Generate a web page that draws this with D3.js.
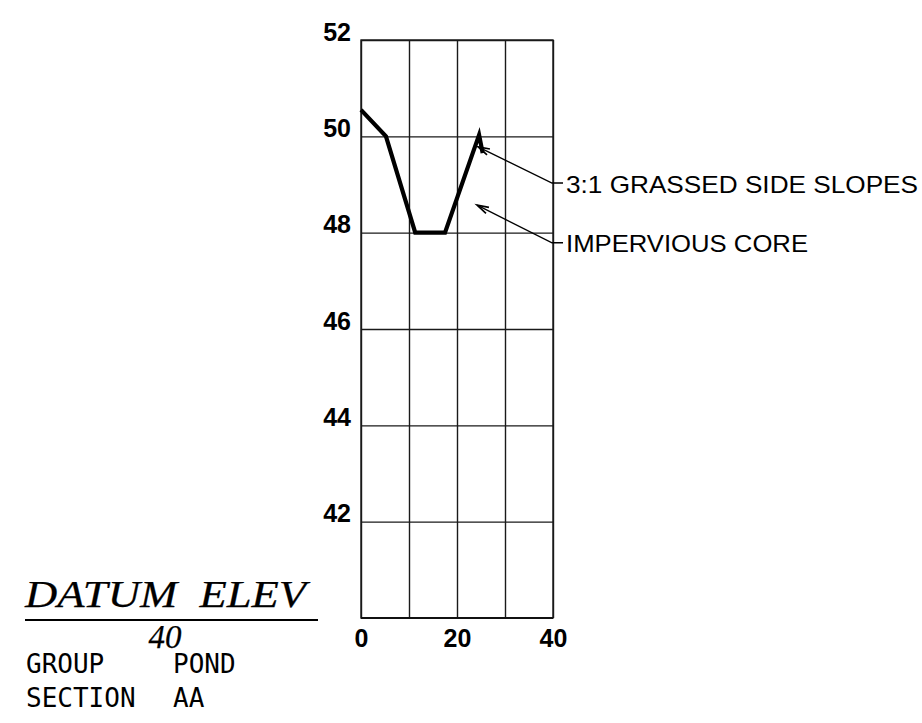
<!DOCTYPE html>
<html>
<head>
<meta charset="utf-8">
<script src="https://cdn.jsdelivr.net/npm/d3@7"></script>
<style>
  body { margin: 0; background: #fff; }
  svg { display: block; }
</style>
</head>
<body>
<figure style="margin:0"></figure>
<script>
// cross section data (station ft, elevation ft)
const station = [0, 5.2, 11.3, 17.5, 24.6, 25.35]
const elev    = [50.55, 50.0, 48.0, 48.0, 50.03, 49.65]

const xTicks = [0, 10, 20, 30, 40]
const xLabels = [0, 20, 40]
const yTicks = [42, 44, 46, 48, 50, 52]

const notes = ['3:1 GRASSED SIDE SLOPES', 'IMPERVIOUS CORE']
const noteTip = [[24.4, 49.78], [24.2, 48.57]]   // arrow tips in data units
const noteAt  = [49.03, 47.79]                    // leader heights in data units

const datumTitle = 'DATUM  ELEV'
const datumValue = '40'
const infoRows = [['GROUP', 'POND'], ['SECTION', 'AA']]

const W = 922, H = 723
const margin = {top: 40, left: 361},
      width = 192,
      height = 578

const svG = d3.select('figure')
    .append('svg')
        .attr('width', W)
        .attr('height', H)

const g = svG.append('g')
    .attr('transform', 'translate(' + margin.left + ',' + margin.top + ')')

const x = d3.scaleLinear().domain([0, 40]).range([0, width]),
      y = d3.scaleLinear().domain([40, 52]).range([height, 0])

const tickFont = 'bold 25px "Liberation Sans", Arial, sans-serif'

// grid + y labels
const yAxis = g.append('g')
    .call(d3.axisLeft(y).tickValues(yTicks).tickSize(-width).tickFormat(d3.format('d')))
yAxis.select('.domain').remove()
yAxis.selectAll('line').attr('stroke', '#1a1a1a').attr('stroke-width', 1.3)
yAxis.selectAll('text')
    .attr('x', -10)
    .attr('dy', 0)
    .attr('fill', '#000')
    .style('font', tickFont)

// vertical grid + x labels
const xAxis = g.append('g')
    .attr('transform', 'translate(0,' + height + ')')
    .call(d3.axisBottom(x).tickValues(xTicks).tickSize(-height)
        .tickFormat(d => xLabels.includes(d) ? d : ''))
xAxis.select('.domain').remove()
xAxis.selectAll('line').attr('stroke', '#1a1a1a').attr('stroke-width', 1.4)
xAxis.selectAll('text')
    .attr('y', 29)
    .attr('dy', 0)
    .attr('fill', '#000')
    .style('font', tickFont)

// frame
g.append('rect')
    .attr('width', width)
    .attr('height', height)
    .attr('fill', 'none')
    .attr('stroke', '#1a1a1a')
    .attr('stroke-width', 1.4)
g.append('line')
    .attr('x1', 0).attr('x2', width)
    .attr('y1', height).attr('y2', height)
    .attr('stroke', '#111').attr('stroke-width', 2.2)

// section line
const valueLine = d3.line()
    .x((d, i) => x(station[i]))
    .y((d, i) => y(elev[i]))

g.append('path')
    .datum(station)
    .attr('d', valueLine)
    .attr('fill', 'none')
    .attr('stroke', '#000')
    .attr('stroke-width', 4.2)
    .attr('stroke-linejoin', 'miter')

// annotations with leaders
const noteX = width + 11
const noteLen = [352, 242]

notes.forEach((t, i) => {
  const tx = x(noteTip[i][0]), ty = y(noteTip[i][1])
  const ex = width - 1, ey = y(noteAt[i])
  g.append('path')
      .attr('d', 'M' + tx + ',' + ty + 'L' + ex + ',' + ey + 'H' + (noteX - 1))
      .attr('fill', 'none')
      .attr('stroke', '#000')
      .attr('stroke-width', 1.4)
  // arrow head
  const ang = Math.atan2(ey - ty, ex - tx),
        L = 12, a = 0.28
  const p1 = [tx + L * Math.cos(ang - a), ty + L * Math.sin(ang - a)],
        p2 = [tx + L * Math.cos(ang + a), ty + L * Math.sin(ang + a)]
  g.append('path')
      .attr('d', 'M' + p1 + 'L' + tx + ',' + ty + 'L' + p2)
      .attr('fill', 'none')
      .attr('stroke', '#000')
      .attr('stroke-width', 1.7)
  g.append('text')
      .attr('x', noteX + 2)
      .attr('y', ey + 9.5)
      .attr('textLength', noteLen[i])
      .attr('lengthAdjust', 'spacingAndGlyphs')
      .style('font', '24px "Liberation Sans", Arial, sans-serif')
      .text(t)
})

// title block bottom left
svG.append('text')
    .attr('x', 25)
    .attr('y', 607)
    .attr('textLength', 281)
    .attr('lengthAdjust', 'spacingAndGlyphs')
    .attr('stroke', '#000')
    .attr('stroke-width', 0.25)
    .style('font', 'italic 38px "Liberation Serif", "Times New Roman", serif')
    .style('white-space', 'pre')
    .text(datumTitle)
svG.append('line')
    .attr('x1', 25).attr('x2', 318)
    .attr('y1', 620).attr('y2', 620)
    .attr('stroke', '#000').attr('stroke-width', 2)
svG.append('text')
    .attr('x', 165)
    .attr('y', 648)
    .attr('text-anchor', 'middle')
    .attr('stroke', '#000')
    .attr('stroke-width', 0.25)
    .style('font', 'italic 33px "Liberation Serif", "Times New Roman", serif')
    .text(datumValue)

infoRows.forEach((r, i) => {
  const ty = 673 + i * 34
  svG.append('text')
      .attr('x', 26).attr('y', ty)
      .style('font', '26px "DejaVu Sans Mono", monospace')
      .text(r[0])
  svG.append('text')
      .attr('x', 173).attr('y', ty)
      .style('font', '26px "DejaVu Sans Mono", monospace')
      .text(r[1])
})
</script>
</body>
</html>
